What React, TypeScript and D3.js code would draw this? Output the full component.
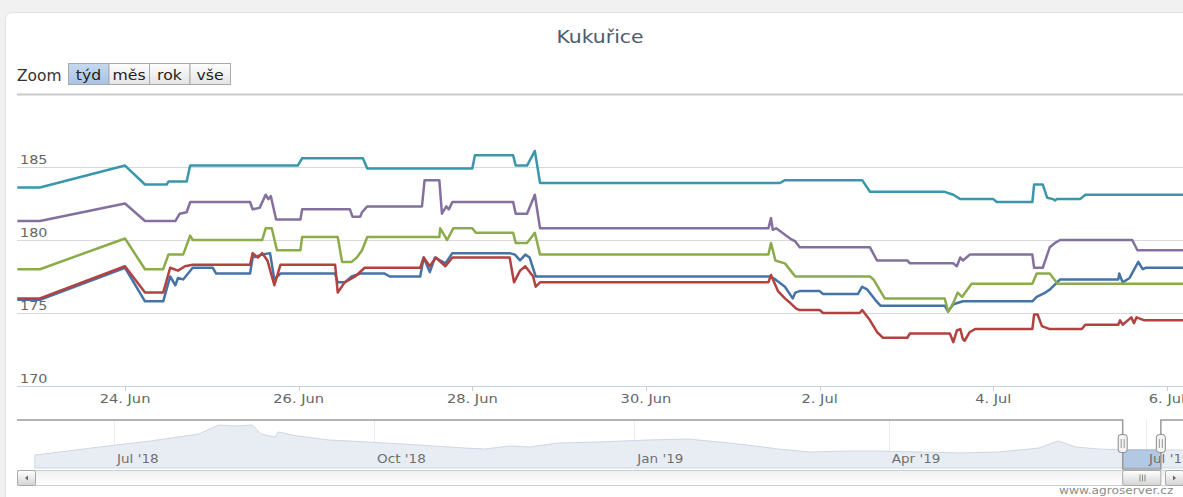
import { useEffect, useRef } from 'react'
import * as d3 from 'd3'

const W = 1183
const H = 497

// time = day of June 2019 (32 = 2. Jul), value = price
const blue: [number, number][] = [
  [22.76, 175.9], [23.02, 175.9], [24.0, 178.1], [24.23, 175.8], [24.44, 175.8], [24.52, 177.5], [24.58, 176.9],
  [24.61, 177.4], [24.67, 177.3], [24.78, 178.1], [25.01, 178.1], [25.05, 177.7], [25.44, 177.7], [25.47, 178.8],
  [25.58, 179.0], [25.67, 179.1], [25.72, 177.3], [25.79, 177.7], [26.42, 177.7], [26.45, 177.1], [26.53, 177.1],
  [26.61, 177.5], [26.71, 177.7], [26.99, 177.7], [27.05, 177.5], [27.40, 177.5], [27.44, 178.8], [27.51, 177.8],
  [27.57, 178.8], [27.69, 178.4], [27.77, 179.1], [28.43, 179.1], [28.49, 179.0], [28.55, 178.6], [28.61, 179.0],
  [28.66, 178.8], [28.73, 177.5], [31.43, 177.5], [31.49, 177.3], [31.60, 176.8], [31.69, 176.0], [31.72, 176.4],
  [31.77, 176.5], [32.00, 176.5], [32.04, 176.3], [32.44, 176.3], [32.49, 176.8], [32.55, 176.6], [32.64, 175.9],
  [32.70, 175.5], [33.44, 175.5], [33.48, 175.1], [33.54, 175.6], [33.65, 175.8], [34.45, 175.8], [34.50, 176.1],
  [34.60, 176.4], [34.65, 176.6], [34.77, 177.3], [35.44, 177.3], [35.45, 177.7], [35.49, 177.1], [35.57, 177.4],
  [35.67, 178.5], [35.72, 178.0], [35.76, 178.1], [36.25, 178.1],
]

const red: [number, number][] = [
  [22.76, 176.0], [23.02, 176.0], [24.0, 178.2], [24.23, 176.4], [24.44, 176.4], [24.52, 178.1], [24.61, 177.9],
  [24.69, 178.2], [24.78, 178.3], [25.44, 178.3], [25.47, 179.1], [25.53, 178.8], [25.58, 179.1], [25.64, 178.6],
  [25.72, 176.9], [25.79, 178.3], [26.42, 178.3], [26.45, 176.4], [26.53, 177.1], [26.65, 177.5], [26.76, 178.1],
  [27.40, 178.1], [27.44, 178.8], [27.51, 178.2], [27.58, 178.8], [27.69, 178.2], [27.77, 178.8], [28.43, 178.8],
  [28.48, 177.1], [28.55, 177.9], [28.61, 178.2], [28.70, 177.5], [28.73, 176.8], [28.78, 177.1], [31.41, 177.1],
  [31.44, 177.6], [31.52, 176.5], [31.60, 176.0], [31.66, 175.7], [31.73, 175.3], [31.77, 175.2], [32.00, 175.2],
  [32.04, 175.0], [32.46, 175.0], [32.49, 175.2], [32.58, 174.5], [32.66, 173.7], [32.73, 173.3], [33.01, 173.3],
  [33.04, 173.6], [33.50, 173.6], [33.54, 173.0], [33.58, 173.8], [33.62, 173.9], [33.65, 173.2], [33.67, 173.1],
  [33.73, 173.7], [33.79, 173.9], [34.45, 173.9], [34.47, 174.9], [34.51, 174.9], [34.56, 174.1], [34.65, 173.9],
  [35.02, 173.9], [35.06, 174.2], [35.44, 174.2], [35.46, 174.5], [35.49, 174.2], [35.59, 174.7], [35.62, 174.3],
  [35.65, 174.7], [35.74, 174.5], [36.25, 174.5],
]

const green: [number, number][] = [
  [22.76, 178.0], [23.02, 178.0], [24.0, 180.1], [24.23, 178.0], [24.44, 178.0], [24.50, 179.0], [24.67, 179.0],
  [24.75, 180.3], [24.78, 180.0], [25.58, 180.0], [25.62, 180.8], [25.69, 180.8], [25.75, 179.3], [26.02, 179.3],
  [26.04, 180.2], [26.45, 180.2], [26.50, 178.5], [26.61, 178.5], [26.67, 178.8], [26.73, 179.3], [26.79, 180.2],
  [27.62, 180.2], [27.63, 180.8], [27.71, 180.0], [27.78, 180.8], [28.00, 180.8], [28.04, 180.5], [28.47, 180.5],
  [28.50, 179.8], [28.63, 179.8], [28.72, 180.5], [28.78, 179.0], [31.41, 179.0], [31.44, 179.8], [31.49, 178.6],
  [31.60, 178.4], [31.68, 177.8], [31.72, 177.5], [32.58, 177.5], [32.62, 177.3], [32.75, 176.0], [33.44, 176.0],
  [33.48, 175.1], [33.54, 175.7], [33.59, 176.4], [33.64, 176.1], [33.75, 177.0], [34.45, 177.0], [34.50, 177.7],
  [34.65, 177.7], [34.74, 177.0], [36.25, 177.0],
]

const purple: [number, number][] = [
  [22.76, 181.3], [23.02, 181.3], [24.0, 182.5], [24.23, 181.3], [24.58, 181.3], [24.63, 181.8], [24.71, 181.9],
  [24.75, 182.6], [24.78, 182.6], [25.44, 182.6], [25.47, 182.1], [25.55, 182.2], [25.62, 183.1], [25.65, 182.8],
  [25.68, 183.0], [25.74, 181.4], [26.02, 181.4], [26.04, 182.1], [26.59, 182.1], [26.62, 181.6], [26.71, 181.6],
  [26.73, 181.9], [26.79, 182.3], [27.42, 182.3], [27.45, 184.1], [27.62, 184.1], [27.65, 181.8], [27.70, 182.3],
  [27.73, 182.1], [27.77, 182.6], [28.47, 182.6], [28.50, 181.8], [28.63, 181.8], [28.72, 183.1], [28.78, 180.8],
  [31.41, 180.8], [31.44, 181.5], [31.46, 180.7], [31.50, 180.8], [31.66, 180.1], [31.72, 179.9], [31.77, 179.5],
  [32.58, 179.5], [32.66, 178.6], [33.01, 178.6], [33.04, 178.4], [33.54, 178.4], [33.58, 178.2], [33.62, 178.8],
  [33.65, 178.6], [33.73, 179.0], [34.45, 179.0], [34.47, 178.1], [34.57, 178.1], [34.65, 179.5], [34.71, 179.8],
  [34.77, 180.0], [35.60, 180.0], [35.66, 179.3], [36.25, 179.3],
]

const teal: [number, number][] = [
  [22.76, 183.6], [23.02, 183.6], [24.0, 185.1], [24.23, 183.8], [24.48, 183.8], [24.50, 184.0], [24.71, 184.0],
  [24.75, 185.1], [25.99, 185.1], [26.04, 185.6], [26.74, 185.6], [26.79, 184.9], [28.00, 184.9], [28.03, 185.8],
  [28.47, 185.8], [28.50, 185.1], [28.63, 185.1], [28.72, 186.1], [28.78, 183.9], [31.54, 183.9], [31.60, 184.1],
  [32.49, 184.1], [32.58, 183.3], [33.44, 183.3], [33.54, 183.1], [33.62, 182.8], [34.00, 182.8], [34.04, 182.6],
  [34.45, 182.6], [34.47, 183.8], [34.57, 183.8], [34.62, 182.9], [34.69, 182.8], [34.71, 182.7], [34.73, 182.8],
  [35.00, 182.8], [35.06, 183.1], [36.25, 183.1],
]

const seriesList = [blue, red, green, purple, teal]
const seriesColors = ['#4572a7', '#b2423f', '#8cab4a', '#84709f', '#3a97ab']

const yTicks = [170, 175, 180, 185, 190]
const zoomButtons = ['týd', 'měs', 'rok', 'vše']

// navigator overview series
const navDates = [
  '2018-06-03', '2018-06-12', '2018-06-26', '2018-07-14', '2018-07-31', '2018-08-07', '2018-08-13', '2018-08-19',
  '2018-08-22', '2018-08-27', '2018-08-28', '2018-09-04', '2018-09-15', '2018-09-29', '2018-10-17', '2018-11-02',
  '2018-11-09', '2018-11-18', '2018-11-25', '2018-12-05', '2018-12-19', '2019-01-06', '2019-01-20', '2019-01-31',
  '2019-02-10', '2019-02-21', '2019-03-04', '2019-03-18', '2019-03-29', '2019-04-12', '2019-04-26', '2019-05-10',
  '2019-05-24', '2019-05-31', '2019-06-06', '2019-06-14', '2019-06-23', '2019-07-02', '2019-07-16',
]
const navValues = [
  170.0, 172.5, 176.7, 181.7, 187.5, 195.0, 194.2, 195.0,
  187.5, 185.0, 189.2, 185.8, 182.5, 180.8, 178.3, 175.8,
  175.0, 177.5, 176.7, 180.0, 180.8, 182.5, 183.3, 180.8,
  178.3, 175.0, 172.5, 173.3, 173.3, 172.5, 171.7, 172.5,
  175.8, 181.7, 176.7, 175.0, 174.2, 174.2, 174.2,
]

const juneDay = (d: number) => new Date(new Date(2019, 5, 1).getTime() + (d - 1) * 864e5)

function App() {
  const svgRef = useRef<SVGSVGElement>(null)

  useEffect(() => {
    document.body.style.margin = '0'
    const svg = d3.select(svgRef.current)
    svg.selectAll('*').remove()

    const font = '"DejaVu Sans", Verdana, sans-serif'
    const plot = { left: 17, right: 1189, top: 94, bottom: 386 }
    const nav = { top: 420, bottom: 468 }

    // stretched text, the reference renders glyphs wider than DejaVu
    const txt = (g: any, x: number, y: number, s: string, size: number, color: string, anchor = 'start', sx = 1.2) =>
      g.append('text')
        .attr('transform', `translate(${x},${y}) scale(${sx},1)`)
        .attr('text-anchor', anchor)
        .style('font-family', font)
        .style('font-size', size + 'px')
        .attr('fill', color)
        .text(s)

    const defs = svg.append('defs')
    defs.append('clipPath').attr('id', 'plotClip').append('rect')
      .attr('x', plot.left).attr('y', plot.top - 10)
      .attr('width', plot.right - plot.left).attr('height', plot.bottom - plot.top + 10)
    const grad = (id: string, a: string, b: string) => {
      const lg = defs.append('linearGradient').attr('id', id).attr('x1', 0).attr('y1', 0).attr('x2', 0).attr('y2', 1)
      lg.append('stop').attr('offset', '0%').attr('stop-color', a)
      lg.append('stop').attr('offset', '100%').attr('stop-color', b)
    }
    grad('btn', '#fdfdfd', '#e4e4e4')
    grad('btnSel', '#c6d9f1', '#a9c3e6')
    grad('track', '#f0f0f0', '#ffffff')
    grad('bar', '#ffffff', '#d4d4d4')

    // page and card
    svg.append('rect').attr('width', W).attr('height', H).attr('fill', '#f1f1f1')
    svg.append('rect')
      .attr('x', 5.5).attr('y', 12.5).attr('width', W + 20).attr('height', H + 20).attr('rx', 7)
      .attr('fill', '#fff').attr('stroke', '#e2e2e2')

    // title
    txt(svg, 600, 43, 'Kukuřice', 17, '#4d5c6e', 'middle', 1.2)

    // range selector
    txt(svg, 17, 81, 'Zoom', 15, '#333', 'start', 1.03)
    zoomButtons.forEach((b, i) => {
      const bx = 68.5 + i * 40.5
      svg.append('rect')
        .attr('x', bx).attr('y', 63.5).attr('width', 40.5).attr('height', 21)
        .attr('fill', i === 0 ? 'url(#btnSel)' : 'url(#btn)')
        .attr('stroke', '#a9a9a9')
      txt(svg, bx + 20, 80, b, 14, '#222', 'middle', 1.12)
    })

    // scales
    const x = d3.scaleTime()
      .domain([juneDay(22.756), juneDay(36.254)])
      .range([plot.left, plot.right])
    const y = d3.scaleLinear().domain([170, 190]).range([plot.bottom, plot.top])

    // grid
    yTicks.forEach(t => {
      svg.append('line')
        .attr('x1', plot.left).attr('x2', plot.right)
        .attr('y1', Math.round(y(t)) + 0.5).attr('y2', Math.round(y(t)) + 0.5)
        .attr('stroke', t === 190 ? '#cacaca' : '#d9d9d9')
        .attr('stroke-width', t === 190 ? 2 : 1)
      if (t !== 190) txt(svg, 20, y(t) - 3, String(t), 12.5, '#666', 'start', 1.15)
    })

    // x axis
    const tickOrigin = new Date(2019, 5, 24)
    const xTicks = d3.timeDay.range(x.domain()[0], x.domain()[1])
      .filter(d => d3.timeDay.count(tickOrigin, d) % 2 === 0)
    const fmt = d3.timeFormat('%-d. %b')
    svg.append('line')
      .attr('x1', plot.left).attr('x2', plot.right)
      .attr('y1', plot.bottom + 0.5).attr('y2', plot.bottom + 0.5)
      .attr('stroke', '#c8d2dc')
    xTicks.forEach(d => {
      const px = Math.round(x(d)) + 0.5
      svg.append('line').attr('x1', px).attr('x2', px)
        .attr('y1', plot.bottom).attr('y2', plot.bottom + 5).attr('stroke', '#c8d2dc')
      txt(svg, x(d), 403, fmt(d), 12, '#666', 'middle', 1.22)
    })

    // series
    const line = d3.line<[number, number]>()
      .x(d => x(juneDay(d[0])))
      .y(d => y(d[1]))
    const lines = svg.append('g').attr('clip-path', 'url(#plotClip)')
    seriesList.forEach((s, i) => {
      lines.append('path')
        .datum(s)
        .attr('d', line)
        .attr('fill', 'none')
        .attr('stroke', seriesColors[i])
        .attr('stroke-width', 2.5)
        .attr('stroke-linejoin', 'round')
    })

    // navigator
    const parse = d3.timeParse('%Y-%m-%d')
    const navPts = navDates.map((d, i) => ({ date: parse(d) as Date, value: navValues[i] }))
    const nx = d3.scaleTime()
      .domain([new Date(2018, 6, 1), new Date(2019, 6, 1)])
      .range([114, 1146])
    const ny = d3.scaleLinear().domain([170, 195]).range([455, 425])

    const navTicks = d3.timeMonth.every(3)!.range(new Date(2018, 4, 1), new Date(2019, 7, 1))
    const navFmt = d3.timeFormat("%b '%y")
    navTicks.forEach(d => {
      const px = Math.round(nx(d)) + 0.5
      svg.append('line').attr('x1', px).attr('x2', px)
        .attr('y1', nav.top).attr('y2', nav.bottom).attr('stroke', '#ececec')
    })

    const area = d3.area<{ date: Date, value: number }>()
      .x(d => nx(d.date))
      .y0(nav.bottom)
      .y1(d => ny(d.value))
    svg.append('path').datum(navPts).attr('d', area)
      .attr('fill', '#e8edf4').attr('stroke', '#cdd7e4').attr('stroke-width', 1)

    const selL = nx(x.domain()[0])
    const selR = nx(x.domain()[1])
    defs.append('clipPath').attr('id', 'selClip').append('rect')
      .attr('x', selL).attr('y', nav.top).attr('width', selR - selL).attr('height', nav.bottom - nav.top)
    svg.append('path').datum(navPts).attr('d', area)
      .attr('clip-path', 'url(#selClip)')
      .attr('fill', '#b3c8e3').attr('stroke', '#9fb5d3')

    navTicks.forEach(d => {
      if (nx(d) > 20 && nx(d) < W) txt(svg, nx(d) + 3, 463, navFmt(d), 11.5, '#707070', 'start', 1.18)
    })

    // outline
    svg.append('path')
      .attr('d', `M${plot.left},${nav.top}H${selL}V${nav.bottom + 1}H${selR}V${nav.top}H${plot.right}`)
      .attr('fill', 'none').attr('stroke', '#999').attr('stroke-width', 1.5)

    // handles
    ;[selL, selR].forEach(hx => {
      svg.append('rect')
        .attr('x', hx - 4.5).attr('y', 434.5).attr('width', 9).attr('height', 18).attr('rx', 3)
        .attr('fill', '#f4f4f4').attr('stroke', '#8a8a8a')
      ;[-1.5, 1.5].forEach(o => {
        svg.append('line').attr('x1', hx + o).attr('x2', hx + o).attr('y1', 439).attr('y2', 448)
          .attr('stroke', '#999')
      })
    })

    // scrollbar
    const sbTop = 470.5
    const sbH = 15
    svg.append('rect').attr('x', plot.left + 0.5).attr('y', sbTop).attr('width', plot.right - plot.left).attr('height', sbH)
      .attr('fill', 'url(#track)').attr('stroke', '#cfcfcf')
    svg.append('rect').attr('x', selL).attr('y', sbTop).attr('width', selR - selL).attr('height', sbH)
      .attr('rx', 2).attr('fill', 'url(#bar)').attr('stroke', '#a8a8a8')
    ;[-2.5, 0, 2.5].forEach(o => {
      const cx = Math.round((selL + selR) / 2) + o + 0.5
      svg.append('line').attr('x1', cx).attr('x2', cx).attr('y1', sbTop + 4).attr('y2', sbTop + 11)
        .attr('stroke', '#888')
    })
    const arrowBtn = (bx: number, dir: number) => {
      svg.append('rect').attr('x', bx).attr('y', sbTop).attr('width', 18).attr('height', sbH).attr('rx', 2)
        .attr('fill', 'url(#bar)').attr('stroke', '#a8a8a8')
      const cx = bx + 9
      const cy = sbTop + sbH / 2
      svg.append('path')
        .attr('d', `M${cx - 1.5 * dir},${cy}L${cx + 1.5 * dir},${cy - 2.5}L${cx + 1.5 * dir},${cy + 2.5}Z`)
        .attr('fill', '#666')
    }
    arrowBtn(plot.left + 0.5, 1)
    arrowBtn(1165.5, -1)

    // credits
    txt(svg, 1059, 494, 'www.agroserver.cz', 10.5, '#8c8c8c', 'start', 1.16)
  }, [])

  return <svg ref={svgRef} width={W} height={H} style={{ display: 'block' }} />
}

export default App
